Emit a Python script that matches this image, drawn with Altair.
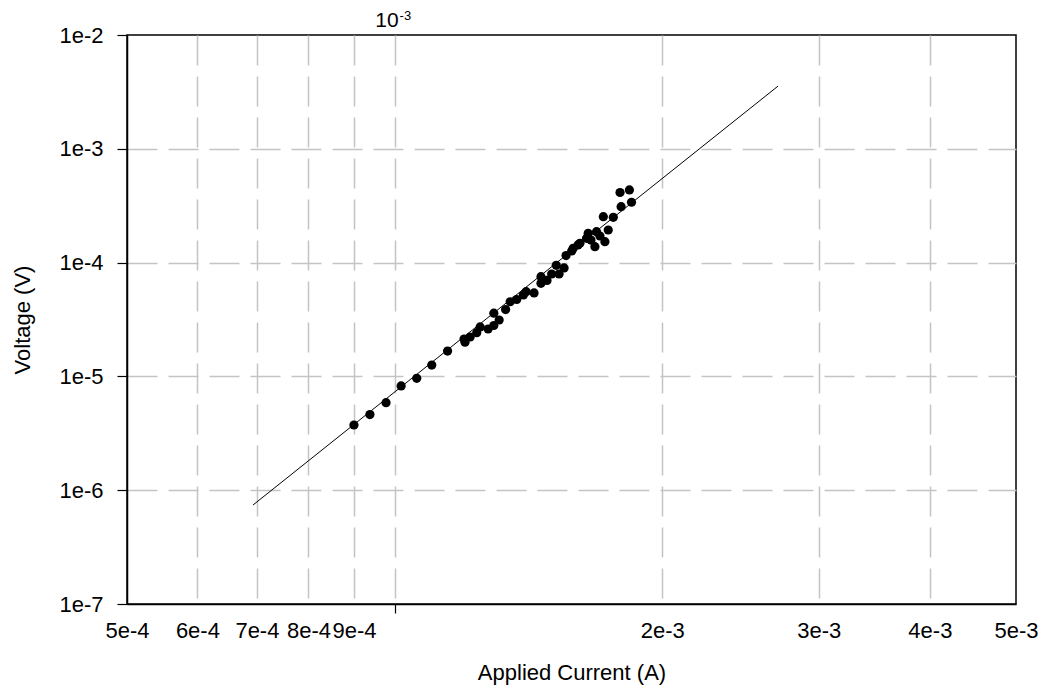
import altair as alt
import pandas as pd

# Measured data (Applied Current in A, Voltage in V)
current = [9.00e-4, 9.38e-4, 9.78e-4, 1.017e-3, 1.059e-3, 1.101e-3, 1.147e-3, 1.197e-3, 1.200e-3, 1.216e-3,
           1.237e-3, 1.248e-3, 1.274e-3, 1.293e-3, 1.311e-3, 1.293e-3, 1.333e-3, 1.349e-3, 1.372e-3, 1.396e-3,
           1.406e-3, 1.435e-3, 1.461e-3, 1.461e-3, 1.484e-3, 1.502e-3, 1.520e-3, 1.531e-3, 1.551e-3, 1.559e-3,
           1.582e-3, 1.588e-3, 1.608e-3, 1.616e-3, 1.644e-3, 1.651e-3, 1.680e-3, 1.687e-3, 1.724e-3, 1.739e-3,
           1.717e-3, 1.762e-3, 1.793e-3, 1.837e-3, 1.798e-3, 1.847e-3, 1.702e-3, 1.663e-3]
voltage = [3.74e-6, 4.62e-6, 5.87e-6, 8.24e-6, 9.62e-6, 1.259e-5, 1.671e-5, 2.13e-5, 2.00e-5, 2.22e-5,
           2.42e-5, 2.72e-5, 2.61e-5, 2.80e-5, 3.13e-5, 3.59e-5, 3.87e-5, 4.53e-5, 4.74e-5, 5.19e-5,
           5.55e-5, 5.41e-5, 6.58e-5, 7.52e-5, 6.97e-5, 7.94e-5, 9.47e-5, 7.94e-5, 8.97e-5, 1.154e-4,
           1.265e-4, 1.336e-4, 1.429e-4, 1.478e-4, 1.634e-4, 1.809e-4, 1.380e-4, 1.868e-4, 1.527e-4, 1.934e-4,
           2.53e-4, 2.50e-4, 4.13e-4, 4.35e-4, 3.10e-4, 3.39e-4, 1.713e-4, 1.579e-4]

# Power-law fit line endpoints
fit_current = [6.93e-4, 2.70e-3]
fit_voltage = [7.41e-7, 3.56e-3]

# Axis ticks
x_ticks = [5e-4, 6e-4, 7e-4, 8e-4, 9e-4, 1e-3, 2e-3, 3e-3, 4e-3, 5e-3]
y_ticks = [1e-7, 1e-6, 1e-5, 1e-4, 1e-3, 1e-2]
top_label_pos = [1e-3]

FONT = "Liberation Sans"
FS = 22

pts = pd.DataFrame({"I": current, "V": voltage})
fit = pd.DataFrame({"I": fit_current, "V": fit_voltage})
lab = pd.DataFrame({"I": top_label_pos})

xscale = alt.Scale(type="log", domain=[5e-4, 5e-3], nice=False)
yscale = alt.Scale(type="log", domain=[1e-7, 1e-2], nice=False)

xaxis = alt.Axis(
    values=x_ticks,
    labelExpr="abs(datum.value - 0.001) < 1e-9 ? '' : format(datum.value, '.0e')",
    grid=True, gridDash=[30, 11], gridColor="#c4c4c4", gridWidth=1.5,
    gridOpacity={"condition": {"test": "datum.value < 0.00051 || datum.value > 0.00499", "value": 0}, "value": 1},
    ticks=True, tickSize=9, tickColor="black", tickWidth=1.2,
    tickOpacity={"condition": {"test": "abs(datum.value - 0.001) < 1e-9", "value": 1}, "value": 0},
    domainColor="black", domainWidth=1.5,
    labelFont=FONT, labelFontSize=FS, labelColor="black", labelPadding=7,
    labelFlush=False, labelOverlap=False, labelBound=False,
    title="Applied Current (A)", titleFont=FONT, titleFontSize=FS, titleFontWeight="normal",
    titleColor="black", titlePadding=21,
)
yaxis = alt.Axis(
    values=y_ticks, format=".0e",
    grid=True, gridDash=[30, 11], gridColor="#c4c4c4", gridWidth=1.5,
    gridOpacity={"condition": {"test": "datum.value > 0.0099 || datum.value < 1.01e-7", "value": 0}, "value": 1},
    ticks=True, tickSize=10, tickColor="black", tickWidth=1.2,
    domainColor="black", domainWidth=1.5,
    labelFont=FONT, labelFontSize=FS, labelColor="black", labelPadding=14,
    labelFlush=False, labelOverlap=False,
    title="Voltage (V)", titleFont=FONT, titleFontSize=FS, titleFontWeight="normal",
    titleColor="black", titlePadding=24,
)

points = alt.Chart(pts).mark_circle(size=85, color="black", opacity=1).encode(
    x=alt.X("I:Q", scale=xscale, axis=xaxis),
    y=alt.Y("V:Q", scale=yscale, axis=yaxis),
)

line = alt.Chart(fit).mark_line(color="black", strokeWidth=1).encode(
    x=alt.X("I:Q", scale=xscale),
    y=alt.Y("V:Q", scale=yscale),
)

top10 = alt.Chart(lab).mark_text(text="10", align="right", baseline="alphabetic", dx=4,
                                 font=FONT, fontSize=21, color="black").encode(
    x=alt.X("I:Q", scale=xscale), y=alt.value(-8))
topexp = alt.Chart(lab).mark_text(text="-3", align="left", baseline="alphabetic", dx=5,
                                  font=FONT, fontSize=13, color="black").encode(
    x=alt.X("I:Q", scale=xscale), y=alt.value(-15))

chart = alt.layer(line, points, top10, topexp).properties(
    width=889, height=569,
    autosize=alt.AutoSizeParams(type="none"),
    padding={"left": 119, "top": 27, "right": 22, "bottom": 84},
    background="white",
).configure_view(stroke="black", strokeWidth=1.5)

chart.save("out.html", embed_options={"renderer": "svg", "actions": False})
